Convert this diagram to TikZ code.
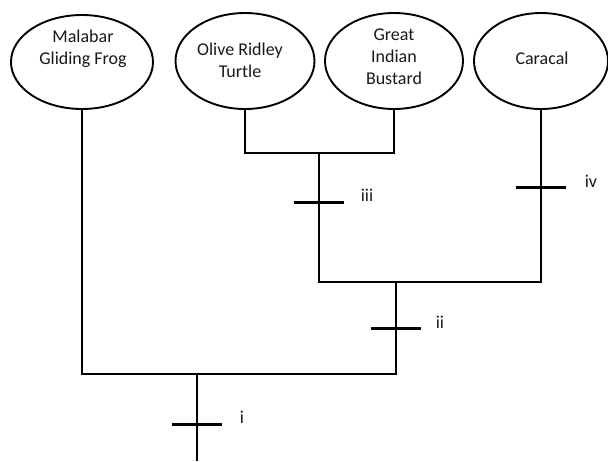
\documentclass[tikz,border=0pt]{standalone}
\usepackage{fontspec}
\setmainfont{Carlito}
\usetikzlibrary{shapes.geometric}
\tikzset{
  taxon/.style={draw, ellipse, line width=1.9pt, inner sep=0pt, minimum width=#1},
  taxon/.default=140pt,
  txt/.style={align=center, font=\fontsize{18}{22}\selectfont, text=black!90},
  branch/.style={line width=1.8pt},
  tickbar/.style={fill=black, rectangle, minimum width=50pt, minimum height=3pt, inner sep=0pt},
  marklab/.style={font=\fontsize{18}{22}\selectfont, text=black!90, inner sep=0pt}
}
\begin{document}
\begin{tikzpicture}[x=1pt,y=-1pt]
\useasboundingbox (0,0) rectangle (608,461);
\fill[white] (0,0) rectangle (608,461);
% taxa
\node[taxon=142pt, minimum height=94pt] (f) at (82,62) {};
\node[taxon=139pt, minimum height=96pt] (t) at (245,61) {};
\node[taxon=138pt, minimum height=96pt] (b) at (394,61) {};
\node[taxon=134pt, minimum height=96pt] (c) at (541,61) {};
\node[txt] (ft) at (83,49) {Malabar\\Gliding Frog};
\node[txt] (tt) at (240,60) {Olive Ridley\\Turtle};
\node[txt] (bt) at (394,57) {Great\\Indian\\Bustard};
\node[txt] (ct) at (542,58) {Caracal};
% joins
\coordinate (n3) at (319,153);
\coordinate (n2) at (396,282);
\coordinate (n1) at (197,374);
\coordinate (root) at (197,461);
\draw[branch] (t.south) |- (n3) -| (b.south);
\draw[branch] (n3) |- (n2) -| (c.south);
\draw[branch] (n2) |- (n1) -| (f.south);
\draw[branch] (n1) -- (root);
% character marks
\node[tickbar] (k3) at (319,202) {};
\node[tickbar] (k4) at (541,187) {};
\node[tickbar] (k2) at (396,328) {};
\node[tickbar] (k1) at (197,424) {};
\node[marklab] (l3) at (367,195) {iii};
\node[marklab] (l4) at (591,181) {iv};
\node[marklab] (l2) at (440,322) {ii};
\node[marklab] (l1) at (242,417) {i};
\end{tikzpicture}
\end{document}
